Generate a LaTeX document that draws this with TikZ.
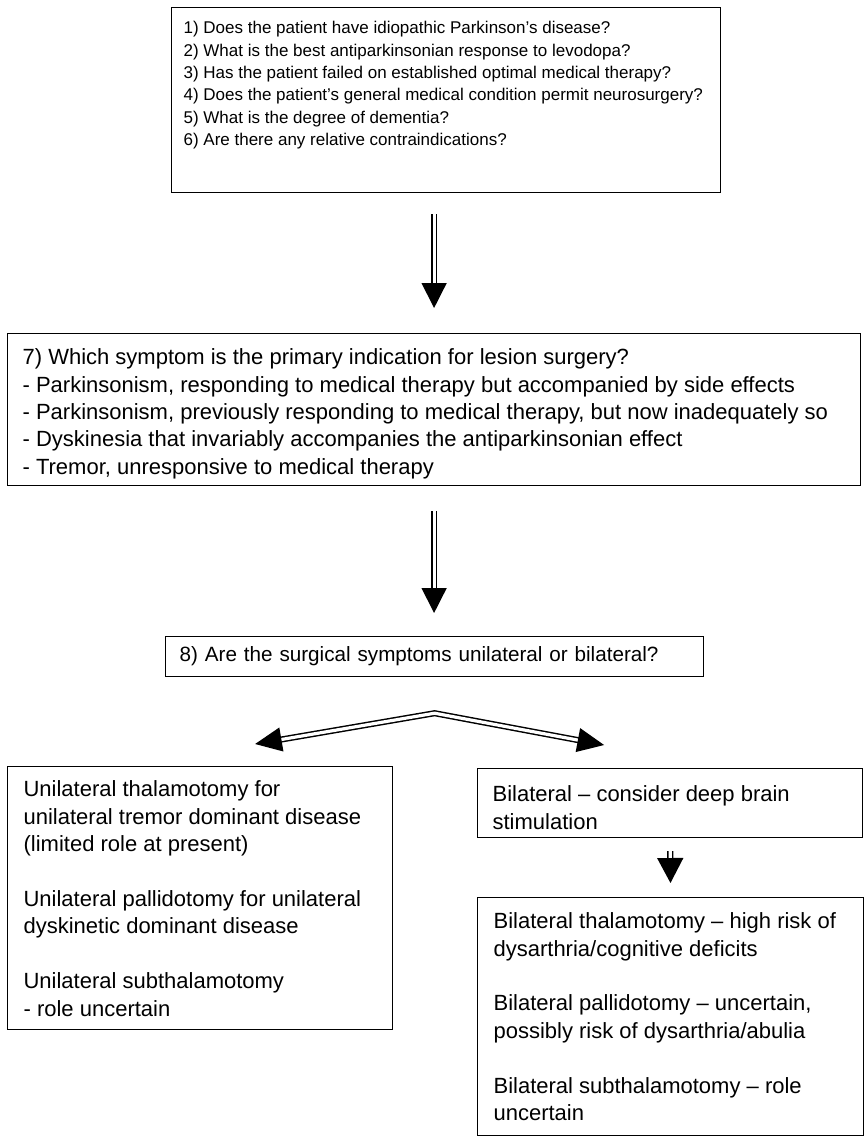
\documentclass[tikz,border=0pt]{standalone}
\usepackage{fontspec}
\setmainfont{Liberation Sans}
\usetikzlibrary{arrows.meta,calc}
\begin{document}
\begin{tikzpicture}[x=0.75pt,y=-0.75pt]
\tikzstyle{qbox} = [rectangle, draw=black, line width=0.9pt, inner xsep=11.25pt, inner ysep=11.25pt, anchor=north west, font=\fontsize{16.5pt}{20.6pt}\selectfont]
\tikzstyle{dbl} = [draw=black, line width=1.1pt, double=white, double distance=2.4pt]
\tikzstyle{tip} = [-{Triangle[length=18.75pt,width=18.75pt]}]
\useasboundingbox (0,0) rectangle (865,1139);
\node (ask)[qbox, inner xsep=9pt, inner ysep=10.5pt, font=\fontsize{12.75pt}{16.75pt}\selectfont] at (171,7) {\parbox[c][117.75pt][t]{393.75pt}{%
1) Does the patient have idiopathic Parkinson's disease?\\
2) What is the best antiparkinsonian response to levodopa?\\
3) Has the patient failed on established optimal medical therapy?\\
4) Does the patient's general medical condition permit neurosurgery?\\
5) What is the degree of dementia?\\
6) Are there any relative contraindications?}};
\node (sym)[qbox] at (7,333) {\parbox[c][91.5pt][t]{617.25pt}{%
7) Which symptom is the primary indication for lesion surgery?\\
- Parkinsonism, responding to medical therapy but accompanied by side effects\\
- Parkinsonism, previously responding to medical therapy, but now inadequately so\\
- Dyskinesia that invariably accompanies the antiparkinsonian effect\\
- Tremor, unresponsive to medical therapy}};
\node (sides)[qbox, text width=382.5pt, align=left, minimum height=30pt, inner xsep=10.5pt, inner ysep=0pt, font=\fontsize{15.5pt}{19pt}\selectfont] at (165,636) {8) Are the surgical symptoms unilateral or bilateral?};
\node (uni)[qbox, inner xsep=12pt, inner ysep=10.5pt] at (7,766) {\parbox[c][176.25pt][t]{264.75pt}{%
Unilateral thalamotomy for\\
unilateral tremor dominant disease\\
(limited role at present)\\[20.6pt]
Unilateral pallidotomy for unilateral\\
dyskinetic dominant disease\\[20.6pt]
Unilateral subthalamotomy\\
- role uncertain}};
\node (bi)[qbox, inner ysep=12.75pt] at (477,768) {\parbox[c][26.25pt][t]{266.25pt}{%
Bilateral – consider deep brain\\
stimulation}};
\node (bilo)[qbox, inner xsep=12pt] at (477,897) {\parbox[c][156pt][t]{265.5pt}{%
Bilateral thalamotomy – high risk of\\
dysarthria/cognitive deficits\\[20.6pt]
Bilateral pallidotomy – uncertain,\\
possibly risk of dysarthria/abulia\\[20.6pt]
Bilateral subthalamotomy – role\\
uncertain}};
% fork under question 8
\coordinate (fork) at ($(sides.south)+(0,36)$);
\coordinate (toUni) at ($(uni.north)+(55,-22)$);
\coordinate (toBi) at ($(bi.north)+(-66,-23)$);
\draw [dbl, tip, shorten <=15.75pt, shorten >=18.75pt] (ask.south -| sym.north) -- (sym.north);
\draw [dbl, tip, shorten <=18.75pt, shorten >=17.25pt] (sym.south) -- (sym.south |- sides.north);
\draw [dbl, {Triangle[length=20pt,width=18pt]}-{Triangle[length=20pt,width=18pt]}] (toUni) -- (fork) -- (toBi);
\draw [dbl, -{Triangle[length=18.75pt,width=19.5pt]}, shorten <=9.75pt, shorten >=10.5pt] (bi.south) -- (bilo.north);
\end{tikzpicture}
\end{document}
